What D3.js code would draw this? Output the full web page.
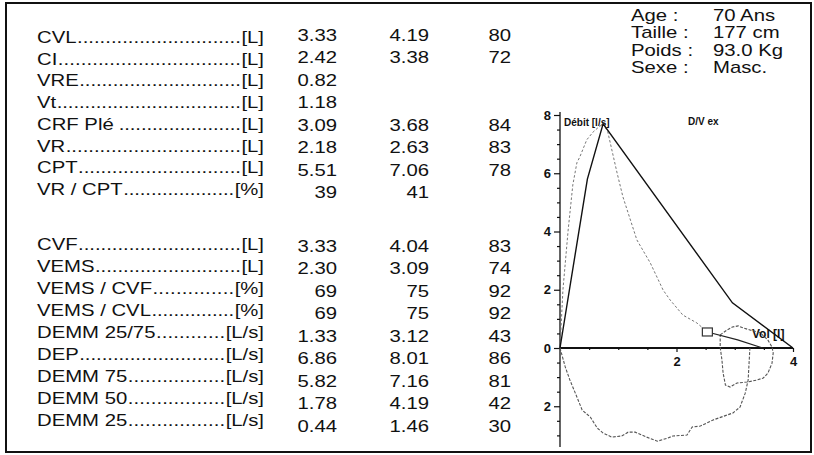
<!DOCTYPE html>
<html>
<head>
<meta charset="utf-8">
<script src="https://cdn.jsdelivr.net/npm/d3@7"></script>
<style>
  body { margin: 0; background: #fff; }
  text { font-family: "Liberation Sans", Arial, sans-serif; fill: #111; }
</style>
</head>
<body>
<svg id="chart" width="814" height="455"></svg>
<script>
// ---- table data (volumes / débits) ----
const namesA = ["CVL", "CI", "VRE", "Vt", "CRF Plé", "VR", "CPT", "VR / CPT"];
const unitsA = ["[L]", "[L]", "[L]", "[L]", "[L]", "[L]", "[L]", "[%]"];
const measA = [3.33, 2.42, 0.82, 1.18, 3.09, 2.18, 5.51, 39];
const predA = [4.19, 3.38, null, null, 3.68, 2.63, 7.06, 41];
const pctA = [80, 72, null, null, 84, 83, 78, null];

const namesB = ["CVF", "VEMS", "VEMS / CVF", "VEMS / CVL", "DEMM 25/75", "DEP", "DEMM 75", "DEMM 50", "DEMM 25"];
const unitsB = ["[L]", "[L]", "[%]", "[%]", "[L/s]", "[L/s]", "[L/s]", "[L/s]", "[L/s]"];
const measB = [3.33, 2.30, 69, 69, 1.33, 6.86, 5.82, 1.78, 0.44];
const predB = [4.04, 3.09, 75, 75, 3.12, 8.01, 7.16, 4.19, 1.46];
const pctB = [83, 74, 92, 92, 43, 86, 81, 42, 30];

// ---- patient ----
const infoLabels = ["Age :", "Taille :", "Poids :", "Sexe :"];
const infoValues = ["70 Ans", "177 cm", "93.0 Kg", "Masc."];

// ---- flow / volume curves ----
const predVol = [0, 0.47, 0.74, 2.96, 4.0];
const predFlow = [0, 5.8, 7.7, 1.55, 0];

const expVol = [0, 0.05, 0.14, 0.22, 0.29, 0.34, 0.46, 0.57, 0.65, 0.74, 0.82, 0.98, 1.08, 1.32, 1.55, 1.77, 1.89, 2.11, 2.35, 2.53];
const expFlow = [0, 1.99, 4.05, 5.6, 6.36, 6.56, 7.15, 7.42, 7.56, 7.7, 7.42, 6.01, 5.19, 3.71, 2.92, 1.99, 1.65, 1.13, 0.86, 0.55];
const tailVol = [2.53, 3.05, 3.48];
const tailFlow = [0.55, 0.28, 0];

const insVol = [0, 0.09, 0.17, 0.29, 0.38, 0.52, 0.64, 0.74, 0.89, 1.06, 1.17, 1.29, 1.49, 1.67, 1.84, 1.94, 2.18, 2.27, 2.41, 2.63, 2.97, 3.09, 3.18, 3.23, 3.26];
const insFlow = [0, -0.65, -1.1, -1.68, -2.13, -2.37, -2.75, -2.92, -3.06, -3.02, -2.89, -2.89, -3.06, -3.2, -3.1, -3.02, -2.99, -2.71, -2.68, -2.47, -2.23, -2.03, -1.55, -1.1, 0];

const tidVol = [2.75, 2.87, 2.96, 3.06, 3.14, 3.26, 3.44, 3.57, 3.64, 3.66, 3.64, 3.57, 3.49, 3.38, 3.21, 3.04, 2.92, 2.84, 2.80, 2.78, 2.75, 2.75];
const tidFlow = [0.45, 0.62, 0.72, 0.76, 0.69, 0.62, 0.52, 0.27, 0.03, -0.17, -0.52, -0.86, -1.03, -1.1, -1.17, -1.2, -1.34, -1.27, -0.86, -0.41, 0.03, 0.45];

const yTicks = [-2, 0, 2, 4, 6, 8];
const xTicks = [2, 4];

const svg = d3.select("#chart");
const SX = 1.27; // the print is stretched sideways
const FS = 16;

// frame
svg.append("rect")
    .attr("x", 6).attr("y", 3)
    .attr("width", 805).attr("height", 449)
    .attr("fill", "none")
    .attr("stroke", "#111")
    .attr("stroke-width", 2);

function wideText(g, x, y, str, anchor, size, weight) {
    return g.append("text")
        .attr("transform", `translate(${x},${y}) scale(${SX},1)`)
        .attr("text-anchor", anchor)
        .style("font-size", size + "px")
        .style("font-weight", weight || "normal")
        .text(str);
}

const fmt = (v, unit) => v == null ? "" : (unit === "[%]" ? d3.format("d")(v) : d3.format(".2f")(v));

// measure the width of one leader dot
const probe = wideText(svg, 0, -50, "..........", "start", FS);
const dotW = probe.node().getComputedTextLength() * SX / 10;
probe.remove();

// draw one block of the table
function drawBlock(names, units, meas, pred, pct, labelY, valueY) {
    const g = svg.append("g");
    names.forEach((name, i) => {
        const ly = labelY(i);
        const t = wideText(g, 37, ly, name, "start", FS);
        const u = wideText(g, 264, ly, units[i], "end", FS);
        const nameEnd = 37 + t.node().getComputedTextLength() * SX + (name === "CRF Plé" ? 5 : 0.5);
        const unitStart = 264 - u.node().getComputedTextLength() * SX - 0.5;
        const span = unitStart - nameEnd;
        const n = Math.max(Math.round(span / dotW), 1);
        wideText(g, nameEnd, ly, ".".repeat(n), "start", FS)
            .attr("textLength", span / SX)
            .attr("lengthAdjust", "spacing");

        const vy = valueY(i);
        wideText(g, 337, vy, fmt(meas[i], units[i]), "end", FS);
        wideText(g, 429, vy, fmt(pred[i], units[i]), "end", FS);
        wideText(g, 511, vy, pct[i] == null ? "" : pct[i], "end", FS);
    });
}

drawBlock(namesA, unitsA, measA, predA, pctA,
    d3.scaleLinear().domain([0, 7]).range([43, 195]),
    d3.scaleLinear().domain([0, 7]).range([41, 198]));
drawBlock(namesB, unitsB, measB, predB, pctB,
    d3.scaleLinear().domain([0, 8]).range([250, 426]),
    d3.scaleLinear().domain([0, 8]).range([251.5, 431.5]));

// patient info
const info = svg.append("g");
const infoY = d3.scaleLinear().domain([0, 3]).range([21, 73]);
infoLabels.forEach((lab, i) => {
    wideText(info, 631, infoY(i), lab, "start", 16);
    wideText(info, 713, infoY(i), infoValues[i], "start", 16);
});

// ---- flow / volume chart ----
const x = d3.scaleLinear().domain([0, 4]).range([560, 793]);
const y = d3.scaleLinear().domain([0, 8]).range([348, 115]);

const plot = svg.append("g");

// y axis
plot.append("g")
    .attr("transform", `translate(${x(0)},0)`)
    .call(d3.axisLeft(y).tickValues(yTicks).tickFormat(d => Math.abs(d)).tickSize(6).tickPadding(3));
plot.append("g")
    .attr("transform", `translate(${x(0)},0)`)
    .call(d3.axisLeft(y).tickValues(d3.range(-3, 8, 0.5).filter(v => v % 2 !== 0)).tickFormat("").tickSize(3));

// x axis
plot.append("g")
    .attr("transform", `translate(0,${y(0)})`)
    .call(d3.axisBottom(x).tickValues(xTicks).tickFormat(d3.format("d")).tickSize(4).tickPadding(5));
plot.append("g")
    .attr("transform", `translate(0,${y(0)})`)
    .call(d3.axisBottom(x).tickValues(d3.range(0.5, 4, 0.5).filter(v => v % 2 !== 0)).tickFormat("").tickSize(2));

plot.selectAll(".domain").remove();
plot.selectAll(".tick line").attr("stroke", "#111").attr("stroke-width", 1.2);
plot.selectAll(".tick text")
    .style("font-size", "13px")
    .style("font-weight", "bold")
    .attr("fill", "#111");

plot.append("line")
    .attr("x1", x(0)).attr("x2", x(0))
    .attr("y1", y(8.1)).attr("y2", y(-3.4))
    .attr("stroke", "#111").attr("stroke-width", 1.3);
plot.append("line")
    .attr("x1", x(0)).attr("x2", x(4))
    .attr("y1", y(0)).attr("y2", y(0))
    .attr("stroke", "#111").attr("stroke-width", 1.8);

// chart labels (drawn under the curves, as on the print)
plot.append("text").attr("x", 564).attr("y", 126)
    .style("font-size", "10px").style("font-weight", "bold")
    .text("Débit [l/s]");
plot.append("text").attr("x", 688).attr("y", 125)
    .style("font-size", "10px").style("font-weight", "bold")
    .text("D/V ex");
plot.append("text").attr("x", 752).attr("y", 338)
    .style("font-size", "12px").style("font-weight", "bold")
    .text("Vol [l]");

const line = d3.line().x(d => x(d[0])).y(d => y(d[1]));
const pairs = (a, b) => a.map((v, i) => [v, b[i]]);

// measured curves (grey, broken)
plot.append("path")
    .attr("d", line(pairs(insVol, insFlow)))
    .attr("fill", "none").attr("stroke", "#555").attr("stroke-width", 1.1)
    .attr("stroke-dasharray", "3,1.5");
plot.append("path")
    .attr("d", line(pairs(tidVol, tidFlow)))
    .attr("fill", "none").attr("stroke", "#555").attr("stroke-width", 1.1)
    .attr("stroke-dasharray", "3,1.5");
plot.append("path")
    .attr("d", line(pairs(expVol, expFlow)))
    .attr("fill", "none").attr("stroke", "#777").attr("stroke-width", 1)
    .attr("stroke-dasharray", "2.5,2");
plot.append("path")
    .attr("d", line(pairs(tailVol, tailFlow)))
    .attr("fill", "none").attr("stroke", "#222").attr("stroke-width", 1.2);

// marker at end of the measured curve
const last = expVol.length - 1;
plot.append("rect")
    .attr("x", x(expVol[last]) - 5).attr("y", y(expFlow[last]) - 4)
    .attr("width", 10).attr("height", 8)
    .attr("fill", "#fff").attr("stroke", "#333").attr("stroke-width", 1.2);

// predicted curve (solid)
plot.append("path")
    .attr("d", line(pairs(predVol, predFlow)))
    .attr("fill", "none").attr("stroke", "#111").attr("stroke-width", 1.4);
</script>
</body>
</html>
